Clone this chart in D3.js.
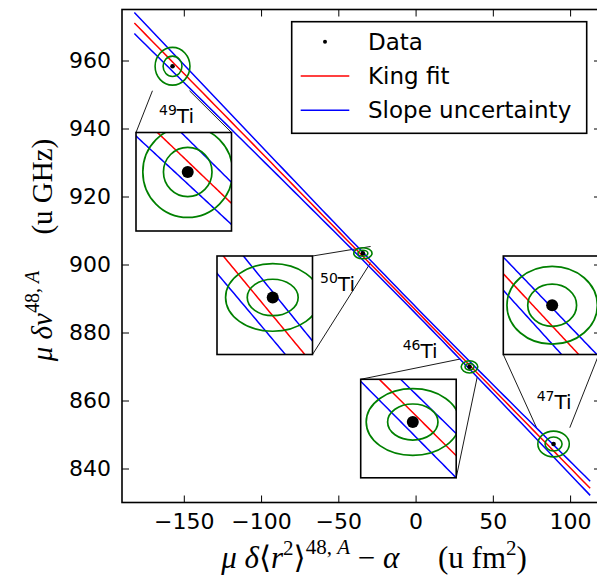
<!DOCTYPE html>
<html>
<head>
<meta charset="utf-8">
<script src="https://cdnjs.cloudflare.com/ajax/libs/d3/7.8.5/d3.min.js"></script>
<style>
  body { margin: 0; background: #fff; }
  svg { display: block; }
</style>
</head>
<body>
<script>
// isotopes and their King plot coordinates
var isotopes = ['49Ti', '50Ti', '46Ti', '47Ti'];
var massNumbers = ['49', '50', '46', '47'];
var xValues = [-157.3, -34.1, 34.9, 89.3];   // mu * d<r2> - alpha  (u fm2)
var yValues = [958.3, 903.3, 869.9, 847.2];   // mu * dnu  (u GHz)
var xErrors = [6.1, 3.2, 2.9, 5.5];
var yErrors = [3.0, 0.88, 0.97, 2.05];
var ellipseLevels = [1, 1.85];

// King fit
var fitIntercept = 886.6,
    fitSlope = -0.4639,
    interceptErr = 1.0,
    slopeErr = 0.0162;
var fitRange = [-182, 113];

var xTicks = [-150, -100, -50, 0, 50, 100];
var yTicks = [840, 860, 880, 900, 920, 940, 960];

// zoom windows of the insets, relative to each point
var insetXWindow = [[-13, 11], [-7, 5], [-6, 5], [-11, 10.5]];
var insetYWindow = [[-7.2, 4.8], [-2.75, 2.0], [-3.0, 2.3], [-4.8, 4.8]];

// layout
var width = 597, height = 576;
var margin = {left: 122, top: 9.5};
var plotW = 479, plotH = 493;
var insetW = 95.5, insetH = 98.5;
var insetPos = [[14, 123], [95, 246.5], [238.7, 369.8], [381.3, 246.5]];
var labelPos = [[37, 113.5], [198, 281.2], [280.7, 348.8], [414.7, 399.5]];
var insetLinks = [
    [['tl', 'bl'], ['tr', 'br']],
    [['tr', 'tr'], ['br', 'br']],
    [['tl', 'tl'], ['br', 'br']],
    [['bl', 'tl'], ['br', 'tr']]
];

var sans = '"DejaVu Sans", sans-serif';
var serif = '"Liberation Serif", "DejaVu Serif", serif';

var svg = d3.select('body').append('svg')
    .attr('width', width)
    .attr('height', height);

var xScale = d3.scaleLinear().domain([-190, 120]).range([margin.left, margin.left + plotW]);
var yScale = d3.scaleLinear().domain([830, 975]).range([margin.top + plotH, margin.top]);

function fit(v) { return fitIntercept + fitSlope * v; }
function band(v) { return Math.sqrt(interceptErr * interceptErr + slopeErr * slopeErr * v * v); }
function sample(lo, hi, n) {
    return d3.range(n + 1).map(function(i) { return lo + (hi - lo) * i / n; });
}

// draws fit, band, ellipses and points onto g with the given scales
function drawKing(g, xs, ys, lo, hi, opts) {
    var pts = sample(lo, hi, 80);
    var line = d3.line().x(function(d) { return xs(d[0]); }).y(function(d) { return ys(d[1]); });
    g.append('path')
        .attr('d', line(pts.map(function(v) { return [v, fit(v)]; })))
        .attr('fill', 'none').attr('stroke', '#ff0000').attr('stroke-width', opts.lw);
    [1, -1].forEach(function(s) {
        g.append('path')
            .attr('d', line(pts.map(function(v) { return [v, fit(v) + s * band(v)]; })))
            .attr('fill', 'none').attr('stroke', '#0000ff').attr('stroke-width', opts.lw);
    });
    xValues.forEach(function(xv, i) {
        var yv = yValues[i];
        ellipseLevels.forEach(function(k) {
            g.append('ellipse')
                .attr('cx', xs(xv)).attr('cy', ys(yv))
                .attr('rx', Math.abs(xs(xv + k * xErrors[i]) - xs(xv)))
                .attr('ry', Math.abs(ys(yv) - ys(yv + k * yErrors[i])))
                .attr('fill', 'none').attr('stroke', '#008000').attr('stroke-width', opts.elw);
        });
    });
    g.selectAll(null).data(xValues).enter().append('circle')
        .attr('cx', function(d) { return xs(d); })
        .attr('cy', function(d, i) { return ys(yValues[i]); })
        .attr('r', opts.r)
        .attr('fill', '#000');
}

// connector lines between insets and their zoom windows
isotopes.forEach(function(iso, i) {
    var bx = margin.left + insetPos[i][0], by = margin.top + insetPos[i][1];
    var box = {tl: [bx, by], tr: [bx + insetW, by], bl: [bx, by + insetH], br: [bx + insetW, by + insetH]};
    var x0 = xScale(xValues[i] + insetXWindow[i][0]), x1 = xScale(xValues[i] + insetXWindow[i][1]);
    var y0 = yScale(yValues[i] + insetYWindow[i][1]), y1 = yScale(yValues[i] + insetYWindow[i][0]);
    var rect = {tl: [x0, y0], tr: [x1, y0], bl: [x0, y1], br: [x1, y1]};
    insetLinks[i].forEach(function(l) {
        svg.append('line')
            .attr('x1', box[l[0]][0]).attr('y1', box[l[0]][1])
            .attr('x2', rect[l[1]][0]).attr('y2', rect[l[1]][1])
            .attr('stroke', '#000').attr('stroke-width', 0.9);
    });
});

// main plot
svg.append('clipPath').attr('id', 'mainclip').append('rect')
    .attr('x', margin.left).attr('y', margin.top).attr('width', plotW).attr('height', plotH);
var mainG = svg.append('g').attr('clip-path', 'url(#mainclip)');
drawKing(mainG, xScale, yScale, fitRange[0], fitRange[1], {lw: 1.5, elw: 1.6, r: 2.3});

// insets
isotopes.forEach(function(iso, i) {
    var bx = margin.left + insetPos[i][0], by = margin.top + insetPos[i][1];
    var g = svg.append('g').attr('transform', 'translate(' + bx + ',' + by + ')');
    g.append('clipPath').attr('id', 'inclip' + i).append('rect')
        .attr('width', insetW).attr('height', insetH);
    g.append('rect').attr('width', insetW).attr('height', insetH).attr('fill', '#fff');
    var xs = d3.scaleLinear().domain([xValues[i] + insetXWindow[i][0], xValues[i] + insetXWindow[i][1]]).range([0, insetW]);
    var ys = d3.scaleLinear().domain([yValues[i] + insetYWindow[i][0], yValues[i] + insetYWindow[i][1]]).range([insetH, 0]);
    var inner = g.append('g').attr('clip-path', 'url(#inclip' + i + ')');
    drawKing(inner, xs, ys, xs.domain()[0] - 5, xs.domain()[1] + 5, {lw: 1.5, elw: 1.7, r: 6});
    g.append('rect').attr('width', insetW).attr('height', insetH)
        .attr('fill', 'none').attr('stroke', '#000').attr('stroke-width', 1.6);

    var t = svg.append('text')
        .attr('x', margin.left + labelPos[i][0]).attr('y', margin.top + labelPos[i][1])
        .attr('font-family', sans).attr('font-size', 20);
    t.append('tspan').attr('font-size', 14).attr('dy', -8).text(massNumbers[i]);
    t.append('tspan').attr('dy', 8).text(iso.replace(massNumbers[i], ''));
});

// axes with inward ticks
var axBottom = svg.append('g').attr('transform', 'translate(0,' + (margin.top + plotH) + ')')
    .call(d3.axisBottom(xScale).tickValues(xTicks).tickSize(-7).tickPadding(11));
var axTop = svg.append('g').attr('transform', 'translate(0,' + margin.top + ')')
    .call(d3.axisTop(xScale).tickValues(xTicks).tickSize(-7).tickFormat(''));
var axLeft = svg.append('g').attr('transform', 'translate(' + margin.left + ',0)')
    .call(d3.axisLeft(yScale).tickValues(yTicks).tickSize(-7).tickPadding(11));
var axRight = svg.append('g').attr('transform', 'translate(' + (margin.left + plotW) + ',0)')
    .call(d3.axisRight(yScale).tickValues(yTicks).tickSize(-7).tickFormat(''));
[axBottom, axTop, axLeft, axRight].forEach(function(a) {
    a.select('.domain').remove();
    a.selectAll('line').attr('stroke', '#000').attr('stroke-width', 1);
    a.selectAll('text').attr('font-family', sans).attr('font-size', 22).attr('fill', '#000');
});
svg.append('rect')
    .attr('x', margin.left).attr('y', margin.top).attr('width', plotW).attr('height', plotH)
    .attr('fill', 'none').attr('stroke', '#000').attr('stroke-width', 1.6);

// legend
var legend = svg.append('g');
legend.append('rect')
    .attr('x', 291.7).attr('y', 21.7).attr('width', 295).attr('height', 111.6)
    .attr('fill', '#fff').attr('stroke', '#000').attr('stroke-width', 1.6);
var legendItems = ['Data', 'King fit', 'Slope uncertainty'];
var legendColors = ['#000', '#ff0000', '#0000ff'];
legendItems.forEach(function(name, i) {
    var ly = 41.7 + i * 34.3;
    if (i === 0) {
        legend.append('circle').attr('cx', 325).attr('cy', ly).attr('r', 2).attr('fill', '#000');
    } else {
        legend.append('line').attr('x1', 300.7).attr('x2', 349.3).attr('y1', ly).attr('y2', ly)
            .attr('stroke', legendColors[i]).attr('stroke-width', 1.5);
    }
    legend.append('text').attr('x', 368).attr('y', ly + 8)
        .attr('font-family', sans).attr('font-size', 23).text(name);
});

// axis labels (math style)
var xl = svg.append('text')
    .attr('x', 374).attr('y', 568).attr('text-anchor', 'middle')
    .attr('font-family', serif).attr('font-size', 31);
xl.append('tspan').attr('font-style', 'italic').text('\u03bc \u03b4');
xl.append('tspan').text('\u27e8');
xl.append('tspan').attr('font-style', 'italic').text('r');
xl.append('tspan').attr('font-size', 21).attr('dy', -13).text('2');
xl.append('tspan').attr('dy', 13).text('\u27e9');
xl.append('tspan').attr('font-size', 21).attr('dy', -14).text('48, ');
xl.append('tspan').attr('font-size', 21).attr('font-style', 'italic').text('A');
xl.append('tspan').attr('dy', 14).text(' \u2212 ');
xl.append('tspan').attr('font-style', 'italic').text('\u03b1');
xl.append('tspan').text('\u2003 (u fm');
xl.append('tspan').attr('font-size', 21).attr('dy', -13).text('2');
xl.append('tspan').attr('dy', 13).text(')');

var yl = svg.append('text')
    .attr('transform', 'translate(52,250) rotate(-90)').attr('text-anchor', 'middle')
    .attr('font-family', serif).attr('font-size', 29);
yl.append('tspan').attr('font-style', 'italic').text('\u03bc \u03b4\u03bd');
yl.append('tspan').attr('font-size', 20).attr('dy', -13).text('48, ');
yl.append('tspan').attr('font-size', 20).attr('font-style', 'italic').text('A');
yl.append('tspan').attr('dy', 13).text('\u2003 (u GHz)');
</script>
</body>
</html>
